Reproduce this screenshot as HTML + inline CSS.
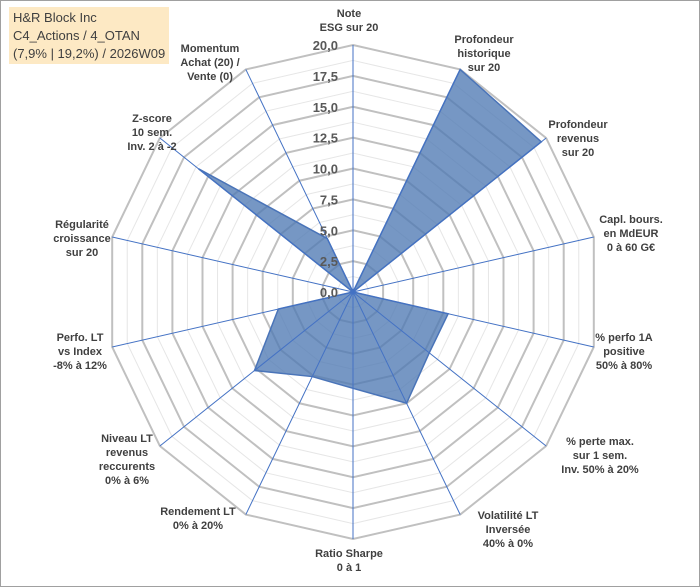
<!DOCTYPE html>
<html><head><meta charset="utf-8"><style>
body{margin:0;background:#fff}
#c{position:relative;width:700px;height:587px;overflow:hidden;font-family:"Liberation Sans",Arial,sans-serif}
#frame{position:absolute;left:0;top:0;width:698px;height:585px;border:1px solid #a0a0a0}
#title{position:absolute;left:9px;top:7px;width:160px;height:57px;background:#fde9c4;font-size:13px;line-height:18px;color:#404040;padding:2px 0 0 4px;box-sizing:border-box;font-family:"Liberation Sans Narrow","Liberation Sans",sans-serif}
svg text{font-family:"Liberation Sans",Arial,sans-serif}
</style></head><body>
<div id="c">
<div id="frame"></div>
<svg id="s" width="700" height="587" style="position:absolute;left:0;top:0"></svg>
<div id="title">H&amp;R Block Inc<br>C4_Actions / 4_OTAN<br>(7,9% | 19,2%) / 2026W09</div>
</div>
<script>
const categories=[["Note","ESG sur 20"],["Profondeur","historique","sur 20"],["Profondeur","revenus","sur 20"],["Capl. bours.","en MdEUR","0 à 60 G€"],["% perfo 1A","positive","50% à 80%"],["% perte max.","sur 1 sem.","Inv. 50% à 20%"],["Volatilité LT","Inversée","40% à 0%"],["Ratio Sharpe","0 à 1"],["Rendement LT","0% à 20%"],["Niveau LT","revenus","reccurents","0% à 6%"],["Perfo. LT","vs Index","-8% à 12%"],["Régularité","croissance","sur 20"],["Z-score","10 sem.","Inv. 2 à -2"],["Momentum","Achat (20) /","Vente (0)"]];
const values=[0,20,19.5,0,7.9,7.9,10,7.8,7.6,10.2,6.2,0,16,4.8];
const tickLabels=["0,0","2,5","5,0","7,5","10,0","12,5","15,0","17,5","20,0"];
const maxVal=20;
const labelPos=[[349,17],[484,43],[578,128],[631,223],[624,341],[600,445],[508,519],[349,557],[198,515],[127,442],[80,341],[82,228],[152,122],[210,52]];
const svg=document.getElementById('s');const NS='http://www.w3.org/2000/svg';
const cx=353,cy=292,R=247,n=categories.length;
function ang(i){return -Math.PI/2+i*2*Math.PI/n;}
function pt(i,v){const r=v/maxVal*R;return [cx+r*Math.cos(ang(i)),cy+r*Math.sin(ang(i))];}
function mk(t,a){const e=document.createElementNS(NS,t);for(const k in a)e.setAttribute(k,a[k]);svg.appendChild(e);return e;}
for(let k=1;k<=16;k++){const v=k*1.25;const major=k%2==0;
 const p=categories.map((c,i)=>pt(i,v).join(',')).join(' ');
 const g=mk('polygon',{points:p,fill:'none',stroke:major?'#c0c0c0':'#e6e6e6','stroke-width':major?2:1});
 
 }
const poly=mk('polygon',{points:values.map((v,i)=>pt(i,v).join(',')).join(' '),fill:'rgba(79,122,180,0.78)',stroke:'#4a74b8','stroke-width':1.5});


categories.forEach((c,i)=>{const e=pt(i,maxVal);const l=mk('line',{x1:cx,y1:cy,x2:e[0],y2:e[1],stroke:'#4472c4','stroke-width':1});
 
 });
tickLabels.forEach((t,k)=>{const y=cy-(k*2.5)/maxVal*R;const tx=mk('text',{x:338,y:y+5,'text-anchor':'end','font-size':13,'font-weight':'bold',fill:'#595959'});tx.textContent=t;
 
 });
categories.forEach((lines,i)=>{const [x,y]=labelPos[i];const tx=mk('text',{x:x,y:y,'text-anchor':'middle','font-size':11,'font-weight':'bold',fill:'#404040'});
 
 
 lines.forEach((s,j)=>{const ts=document.createElementNS(NS,'tspan');ts.setAttribute('x',x);ts.setAttribute('dy',j?14:0);ts.textContent=s;tx.appendChild(ts);});});
</script>
</body></html>
